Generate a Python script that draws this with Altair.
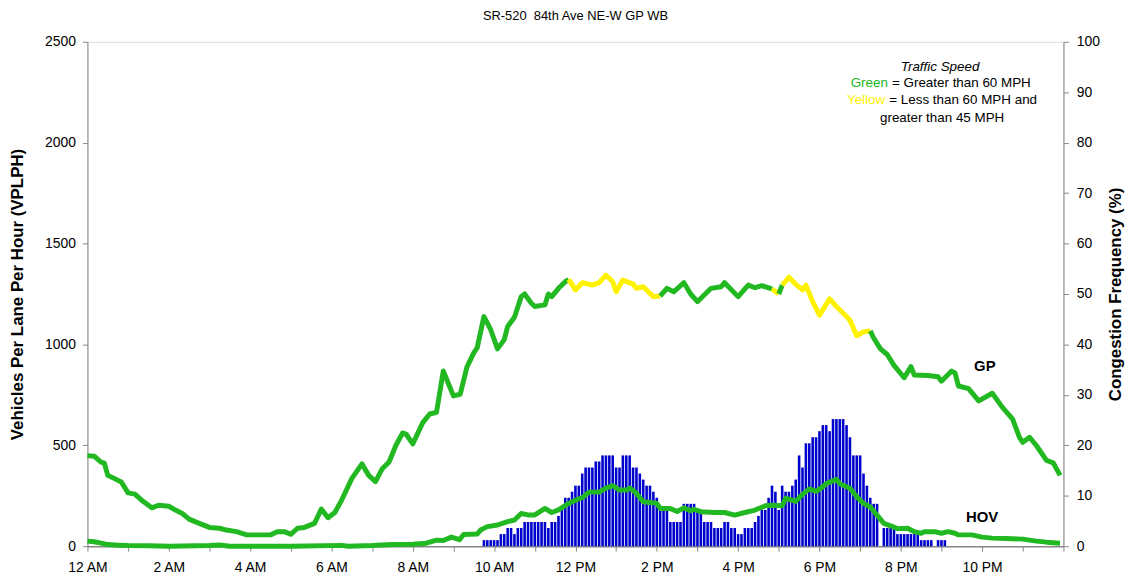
import altair as alt
import pandas as pd

TITLE = "SR-520\u00a0 84th Ave NE-W GP WB"
Y_LEFT_TITLE = "Vehicles Per Lane Per Hour (VPLPH)"
Y_RIGHT_TITLE = "Congestion Frequency (%)"
X_TICK_LABELS = ["12 AM", "2 AM", "4 AM", "6 AM", "8 AM", "10 AM",
                 "12 PM", "2 PM", "4 PM", "6 PM", "8 PM", "10 PM"]

# GP volume (minutes after midnight, VPLPH)
gp_min = [0, 10, 20, 25, 30, 40, 50, 60, 70, 80,
          95, 105, 120, 130, 140, 150, 165, 180, 195, 205,
          220, 235, 270, 280, 290, 300, 310, 320, 335, 345,
          355, 365, 375, 390, 405, 415, 425, 435, 445, 455,
          465, 470, 480, 495, 505, 515, 525, 540, 550, 560,
          570, 575, 585, 595, 605, 615, 620, 630, 640, 645,
          655, 660, 675, 680, 685, 695, 705, 710, 720, 730,
          745, 755, 765, 775, 780, 790, 805, 810, 820, 835,
          845, 855, 865, 880, 890, 900, 920, 935, 940, 960,
          975, 985, 995, 1010, 1020, 1025, 1035, 1045, 1055, 1060,
          1070, 1080, 1095, 1105, 1120, 1125, 1135, 1145, 1155, 1160,
          1170, 1180, 1190, 1205, 1215, 1220, 1240, 1255, 1260, 1275,
          1280, 1285, 1300, 1315, 1335, 1350, 1365, 1375, 1380, 1390,
          1400, 1415, 1425, 1435]
gp_vplph = [449, 446, 417, 412, 351, 335, 318, 264, 258, 228,
            190, 203, 198, 179, 162, 134, 113, 93, 89, 80,
            72, 56, 56, 72, 72, 59, 89, 93, 113, 184,
            141, 167, 228, 335, 408, 351, 320, 384, 417, 499,
            561, 556, 507, 614, 655, 663, 868, 745, 753, 889,
            958, 983, 1138, 1073, 978, 1024, 1089, 1135, 1237, 1250,
            1204, 1188, 1196, 1250, 1237, 1278, 1311, 1322, 1270, 1306,
            1294, 1306, 1343, 1311, 1261, 1319, 1299, 1278, 1286, 1237,
            1240, 1278, 1261, 1306, 1250, 1212, 1278, 1286, 1306, 1237,
            1294, 1281, 1291, 1275, 1250, 1294, 1333, 1298, 1270, 1294,
            1212, 1145, 1226, 1188, 1138, 1120, 1043, 1062, 1067, 1032,
            978, 950, 896, 835, 890, 848, 846, 840, 818, 868,
            859, 794, 781, 720, 758, 688, 630, 540, 515, 540,
            499, 425, 413, 351]
# periods with speed between 45 and 60 MPH (yellow)
yellow_from = [720, 1020, 1035]
yellow_to = [845, 1020, 1155]

# HOV volume
hov_min = [0, 10, 20, 30, 45, 60, 90, 120, 180, 195,
           210, 300, 375, 385, 420, 450, 480, 500, 515, 525,
           537, 549, 555, 575, 580, 590, 605, 620, 630, 640,
           650, 660, 675, 685, 695, 710, 720, 730, 740, 755,
           765, 775, 785, 795, 800, 810, 820, 830, 840, 845,
           860, 870, 880, 890, 895, 905, 925, 940, 955, 970,
           985, 1000, 1010, 1025, 1030, 1045, 1055, 1065, 1075, 1085,
           1090, 1105, 1110, 1125, 1135, 1145, 1155, 1165, 1175, 1185,
           1195, 1210, 1220, 1230, 1235, 1250, 1260, 1270, 1280, 1285,
           1305, 1320, 1335, 1355, 1380, 1400, 1415, 1435]
hov_vplph = [25, 22, 15, 8, 5, 3, 2, 0, 3, 6,
             0, 0, 4, 0, 3, 8, 10, 15, 30, 28,
             45, 32, 58, 60, 80, 97, 105, 122, 130, 162,
             155, 155, 187, 167, 180, 212, 228, 240, 268, 268,
             288, 300, 278, 278, 288, 262, 220, 217, 212, 187,
             187, 172, 190, 176, 183, 171, 167, 167, 154, 167,
             179, 200, 203, 200, 238, 222, 257, 284, 272, 294,
             310, 331, 310, 287, 245, 212, 195, 154, 113, 101,
             87, 89, 72, 64, 72, 72, 64, 72, 64, 56,
             56, 45, 40, 38, 35, 25, 20, 15]

# Congestion frequency (%), 5-minute bins starting 9:45 AM
cong_start_min = 585
cong_step_min = 5
cong_pct = [1.2, 1.2, 1.2, 1.2, 1.2, 2.4, 2.4, 3.6, 3.6, 2.4,
            3.6, 3.6, 4.8, 4.8, 4.8, 4.8, 4.8, 4.8, 4.8, 3.6,
            4.8, 4.8, 6.0, 7.2, 9.6, 9.6, 10.8, 12.0, 12.0, 14.4,
            15.6, 15.6, 15.6, 16.8, 16.8, 18.0, 18.0, 18.0, 18.0, 15.6,
            15.6, 18.0, 18.0, 18.0, 15.6, 15.6, 14.4, 13.2, 12.0, 12.0,
            10.8, 9.6, 7.2, 7.2, 7.2, 4.8, 4.8, 4.8, 4.8, 8.4,
            8.4, 8.4, 8.4, 7.2, 7.2, 4.8, 4.8, 4.8, 3.6, 3.6,
            3.6, 4.8, 4.8, 3.6, 3.6, 2.4, 2.4, 3.6, 3.6, 3.6,
            4.8, 6.0, 7.2, 7.2, 9.6, 12.0, 10.8, 7.2, 12.0, 10.8,
            10.8, 12.0, 13.2, 18.0, 15.6, 20.4, 20.4, 21.6, 21.6, 22.8,
            24.0, 24.0, 22.8, 25.2, 25.2, 25.2, 25.2, 24.0, 21.6, 18.0,
            18.0, 18.0, 14.4, 12.0, 9.6, 8.4, 8.4, 0.0, 3.6, 3.6,
            3.6, 3.6, 2.4, 2.4, 2.4, 2.4, 2.4, 2.4, 2.4, 1.2,
            1.2, 1.2, 1.2, 0.0, 1.2, 1.2, 1.2]

GREEN = "#21b821"
YELLOW = "#fff200"
BLUE = "#0000cc"
FONT = "Liberation Sans"
W, H = 983, 508

# ---- tables ----
def speed_class(t):
    for a, b in zip(yellow_from, yellow_to):
        if a <= t <= b:
            return "Y"
    return "G"

rows = []
seg = 0
prev = None
for k, (t, v) in enumerate(zip(gp_min, gp_vplph)):
    c = speed_class(t)
    if k > 0 and c != prev:
        seg += 1
        rows.append({"t": gp_min[k - 1], "v": gp_vplph[k - 1], "cls": c, "seg": seg, "o": k - 1})
    rows.append({"t": t, "v": v, "cls": c, "seg": seg, "o": k})
    prev = c
gp_df = pd.DataFrame(rows)
hov_df = pd.DataFrame({"t": hov_min, "v": hov_vplph})
bar_t = [cong_start_min + cong_step_min * i for i in range(len(cong_pct))]
bar_df = pd.DataFrame({"t0": [t - 1.9 for t in bar_t], "t1": [t + 1.9 for t in bar_t],
                       "pct": cong_pct, "base": [0] * len(cong_pct)})

# ---- axes / scales ----
expr = "''"
for i, lab in reversed(list(enumerate(X_TICK_LABELS))):
    expr = f"datum.value == {i * 120} ? '{lab}' : ({expr})"

x_scale = alt.Scale(domain=[0, 1440], nice=False, zero=False)
x_axis = alt.Axis(title=None, values=list(range(0, 1441, 60)), labelExpr=expr, grid=False,
                  tickSize=5, labelPadding=9, labelFontSize=14, domainWidth=1.5,
                  labelFlush=False, labelOverlap=False)
yl_scale = alt.Scale(domain=[0, 2500], nice=False)
yl_axis = alt.Axis(title=Y_LEFT_TITLE, values=[0, 500, 1000, 1500, 2000, 2500], format="d",
                   orient="left", tickSize=5, labelPadding=7, labelFontSize=14, grid=False,
                   titleFontSize=17, titleFontWeight="bold", titleAngle=270,
                   titleX=-70, titleY=H / 2, titleAlign="center", titleBaseline="middle")
yr_scale = alt.Scale(domain=[0, 100], nice=False)
yr_axis = alt.Axis(title=Y_RIGHT_TITLE, values=list(range(0, 101, 10)), format="d",
                   orient="right", tickSize=5, labelPadding=8, labelFontSize=14, grid=False,
                   titleFontSize=17, titleFontWeight="bold", titleAngle=270,
                   titleX=52, titleY=H / 2, titleAlign="center", titleBaseline="middle")

X = lambda f: alt.X(f, type="quantitative", scale=x_scale, axis=x_axis)
YL = lambda f: alt.Y(f, type="quantitative", scale=yl_scale, axis=yl_axis)

bars = alt.Chart(bar_df).mark_bar(color=BLUE).encode(
    x=X("t0"), x2="t1",
    y=alt.Y("pct:Q", scale=yr_scale, axis=yr_axis), y2="base",
)

gp = alt.Chart(gp_df).mark_line(strokeWidth=5, strokeJoin="round", strokeCap="butt").encode(
    x=X("t"), y=YL("v"),
    color=alt.Color("cls:N", scale=alt.Scale(domain=["G", "Y"], range=[GREEN, YELLOW]), legend=None),
    detail="seg:N", order="o:Q",
)
hov = alt.Chart(hov_df).mark_line(strokeWidth=5, strokeJoin="round", color=GREEN).encode(
    x=X("t"), y=YL("v"),
)

def label(text, t, v, color="black", size=13.5, weight="normal", style="normal", align="center"):
    df = pd.DataFrame({"t": [t], "v": [v], "txt": [text]})
    return alt.Chart(df).mark_text(font=FONT, fontSize=size, fontWeight=weight, fontStyle=style,
                                   color=color, align=align, baseline="middle").encode(
        x=X("t"), y=YL("v"), text="txt:N")

texts = [
    label("GP", 1324, 891, size=15, weight="bold"),
    label("HOV", 1320, 143, size=15, weight="bold"),
    label("Traffic Speed", 1258, 2377, style="italic"),
    label("Green", 1181, 2295, color=GREEN, align="right"),
    label("= Greater than 60 MPH", 1187, 2295, align="left"),
    label("Yellow", 1177, 2210, color=YELLOW, align="right"),
    label("= Less than 60 MPH and", 1183, 2210, align="left"),
    label("greater than 45 MPH", 1261, 2123),
]

left = alt.layer(gp, hov, *texts)
chart = alt.layer(bars, left).resolve_scale(y="independent").properties(
    width=W, height=H,
    title=alt.TitleParams(TITLE, font=FONT, fontSize=13, fontWeight="normal", anchor="middle", offset=12),
    padding={"left": 80, "top": 32, "right": 64, "bottom": 30},
    autosize=alt.AutoSizeParams(type="none"),
).configure_view(stroke="#808080", strokeWidth=1.5).configure_axis(
    grid=False, domainColor="black", tickColor="black", labelColor="black",
    labelFont=FONT, titleFont=FONT, titleColor="black",
).configure(background="white")

chart.save("out.html", embed_options={"renderer": "svg", "actions": False})
